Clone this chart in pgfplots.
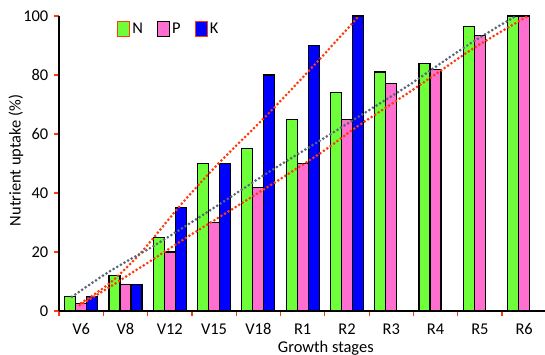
\documentclass[border=0pt]{standalone}
\usepackage{pgfplots}
\pgfplotsset{compat=1.18}
\usepackage{fontspec}
\setmainfont{Carlito}
\definecolor{ngreen}{HTML}{6EFF3A}
\definecolor{ppink}{HTML}{FF6FCF}
\definecolor{kblue}{HTML}{0000FF}
\definecolor{ored}{HTML}{FF3A0A}
\definecolor{tgray}{HTML}{5A6676}
\begin{document}
\fontsize{16.5}{19}\selectfont
\begin{tikzpicture}
\begin{axis}[
  name=ax, at={(0,0)}, anchor=south west,
  scale only axis, width=486bp, height=295bp,
  xmin=-0.5, xmax=10.47, ymin=0, ymax=100,
  axis lines*=left,
  axis line style={line width=1.5pt, black},
  ybar=0pt, bar width=11bp,
  clip=false,
  xtick={0,...,10},
  xticklabels={V6,V8,V12,V15,V18,R1,R2,R3,R4,R5,R6},
  minor xtick={-0.5,0.5,...,9.5},
  ytick={0,20,...,100},
  tick align=outside,
  xtick style={draw=none},
  minor x tick style={draw=ored, line width=1.2pt},
  minor tick length=5bp,
  ytick style={draw=ored, line width=1.2pt},
  major tick length=5bp,
  /pgf/number format/assume math mode=true,
  xticklabel style={font=\fontsize{16.5}{19}\selectfont, yshift=-2bp},
  yticklabel style={font=\fontsize{16.5}{19}\selectfont},
  xlabel={Growth stages},
  ylabel={Nutrient uptake (\%)},
  xlabel style={at={(axis description cs:0.549,-0.125)}, anchor=center, font=\fontsize{16.5}{19}\selectfont},
  ylabel style={at={(axis description cs:-0.0885,0.51)}, anchor=center, rotate=0, font=\fontsize{16.5}{19}\selectfont},
  legend style={at={(axis description cs:0.113,0.955)}, anchor=west, draw=none, fill=none,
    font=\fontsize{16.5}{19}\selectfont, /tikz/every even column/.append style={column sep=12bp},
    /tikz/every odd column/.append style={column sep=0bp}},
  legend columns=3,
  legend entries={N,P,K},
]
\addlegendimage{legend image code/.code={\draw[fill=ngreen,draw=ored,line width=1.2pt] (0bp,-7.5bp) rectangle (12bp,7.5bp);}}
\addlegendimage{legend image code/.code={\draw[fill=ppink,draw=black,line width=1.2pt] (0bp,-7.5bp) rectangle (12bp,7.5bp);}}
\addlegendimage{legend image code/.code={\draw[fill=kblue,draw=ored,line width=1.2pt] (0bp,-7.5bp) rectangle (12bp,7.5bp);}}
\addplot[fill=ngreen, draw=black, line width=1.2pt] coordinates {(0,5) (1,12) (2,25) (3,50) (4,55) (5,65) (6,74) (7,81) (8,84) (9,96.5) (10,100)};
\addplot[fill=ppink, draw=black, line width=1.2pt] coordinates {(0,2.5) (1,9) (2,20) (3,30) (4,42) (5,50) (6,65) (7,77) (8,82) (9,93.3) (10,100)};
\addplot[fill=kblue, draw=black, line width=1.2pt] coordinates {(0,5) (1,9) (2,35) (3,50) (4,80) (5,90) (6,100)};
% trend lines
\addplot[sharp plot, smooth, draw=ored, line width=3pt, line cap=round, dash pattern=on 0pt off 4.2pt] coordinates {(0,2.7) (0.65,9.5) (1.34,19.6) (2.25,36) (3.1,50) (4.2,66.5) (5.3,84) (6.27,100)};
\addplot[sharp plot, smooth, draw=tgray, line width=3pt, line cap=round, dash pattern=on 0pt off 4.2pt] coordinates {(-0.21,4.8) (0.65,13.5) (1.63,22) (2.41,29.3) (3.46,39.5) (4.31,47.8) (5.45,58.3) (6.2,65.3) (7.34,76) (8.12,84) (8.87,91.5) (9.79,99.8)};
\addplot[sharp plot, smooth, draw=ored, line width=3pt, line cap=round, dash pattern=on 0pt off 4.2pt] coordinates {(-0.03,2) (0.65,8.2) (1.63,17.6) (2.41,25.2) (3.46,35) (4.46,44.4) (5.45,54) (6.2,62.2) (7.34,73.5) (8.12,81.5) (8.87,89.2) (10.08,100)};
\end{axis}
\pgfresetboundingbox
\path[use as bounding box] (-59bp,-44bp) rectangle (486bp,311bp);
\end{tikzpicture}
\end{document}
